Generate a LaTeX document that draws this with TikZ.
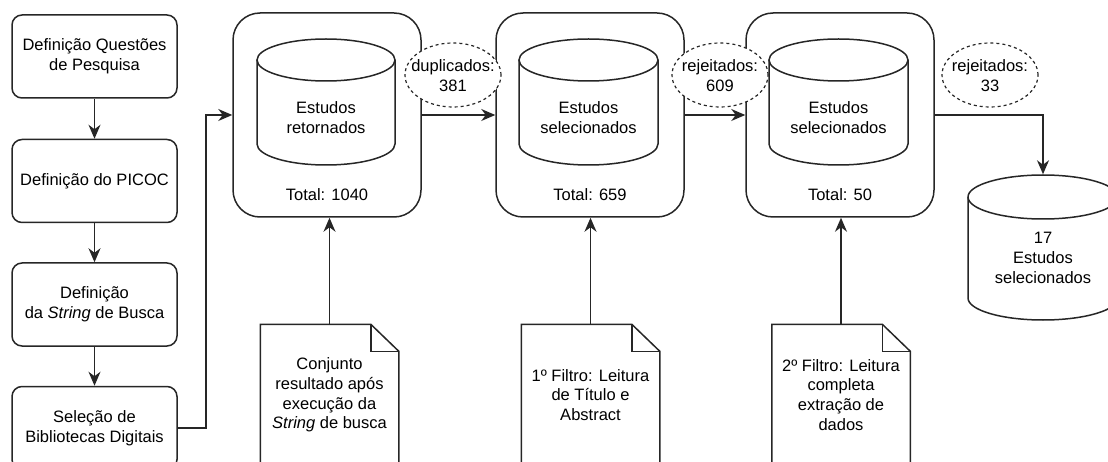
\documentclass[tikz,border=0pt]{standalone}
\usepackage{fontspec}
\setmainfont{Liberation Sans}
\usetikzlibrary{arrows.meta}

% storage drum: centre x, half width, top-cap y, bottom-cap y, cap radius
\newcommand\storedrum[5]{%
  \filldraw[fill=white] (#1-#2,#3) -- (#1-#2,#4)
    arc[start angle=180, end angle=360, x radius=#2pt, y radius=#5pt] -- (#1+#2,#3);
  \filldraw[fill=white] (#1,#3) ellipse [x radius=#2pt, y radius=#5pt];}

% folded-corner sheet drawn around a named node
\newcommand\sheet[1]{%
  \draw (#1.south west) -- (#1.north west) -- ([xshift=-28pt]#1.north east)
    -- ([yshift=-27pt]#1.north east) -- (#1.south east);
  \draw ([xshift=-28pt]#1.north east) -- ([xshift=-28pt,yshift=-27pt]#1.north east)
    -- ([yshift=-27pt]#1.north east);}

\begin{document}
\begin{tikzpicture}[x=1pt, y=-1pt, line width=1.5pt, color={black!85},
  every node/.style={font=\fontsize{16.5}{19.8}\selectfont, align=center, inner sep=0pt, text=black},
  stepbox/.style={draw, rounded corners=10pt, minimum width=165pt, minimum height=83pt},
  stagebox/.style={draw, rounded corners=27pt, minimum width=188pt, minimum height=204pt},
  docbox/.style={minimum width=137pt, minimum height=140pt},
  flow/.style={line width=1.6pt, -{Stealth[length=14pt, width=12pt, inset=4.5pt]}},
  tagline/.style={draw, dash pattern=on 3pt off 3pt, line width=1.2pt, fill=white},
]
\clip (0,0) rectangle (1108,462);

% planning steps
\node[stepbox] (q1) at (94.5,56.5) {Definição Questões\\de Pesquisa};
\node[stepbox] (q2) at (94.5,181) {Definição do PICOC};
\node[stepbox] (q3) at (94.5,304.5) {Definição\\da \textit{String} de Busca};
\node[stepbox] (q4) at (94.5,428) {Seleção de\\Bibliotecas Digitais};

% selection stages
\node[stagebox] (B1) at (327,115) {};
\node[stagebox] (B2) at (590,115) {};
\node[stagebox] (B3) at (840,115) {};

% removed counts
\draw[tagline] (453,75) ellipse [x radius=48pt, y radius=32pt];
\draw[tagline] (720,75) ellipse [x radius=48pt, y radius=32pt];
\draw[tagline] (990,75) ellipse [x radius=48pt, y radius=32pt];
\node (e1) at (453,76) {duplicados:\\381};
\node (e2) at (720,76) {rejeitados:\\609};
\node (e3) at (990,76) {rejeitados:\\33};

% study sets
\storedrum{326}{69}{60}{144}{21}
\storedrum{588.5}{69.5}{60}{144}{21}
\storedrum{838.5}{69.5}{60}{144}{21}
\node (s1) at (326,118) {Estudos\\retornados};
\node (s2) at (588.5,118) {Estudos\\selecionados};
\node (s3) at (838.5,118) {Estudos\\selecionados};
\node (t1) at (327,195) {Total: 1040};
\node (t2) at (590,195) {Total: 659};
\node (t3) at (840,195) {Total: 50};

% final set
\storedrum{1043}{75}{197}{298}{22}
\node[minimum width=150pt, minimum height=145pt] (fin) at (1043,247.5) {};
\node (fintext) at (1043,258) {17\\Estudos\\selecionados};

% inputs to each stage
\node[docbox] (d1) at (329.5,395) {Conjunto\\resultado após\\execução da\\\textit{String} de busca};
\node[docbox] (d2) at (590.5,395) {1º Filtro: Leitura\\de Título e\\Abstract};
\node[docbox] (d3) at (841,395) {2º Filtro: Leitura\\completa\\extração de\\dados};
\sheet{d1}
\sheet{d2}
\sheet{d3}

% connectors
\draw[flow] (q1) -- (q2);
\draw[flow] (q2) -- (q3);
\draw[flow] (q3) -- (q4);
\draw[flow] (q4.east) -- ++(28,0) |- (B1.west);
\draw[flow] (B1.east) -- (B2.west);
\draw[flow] (B2.east) -- (B3.west);
\draw[flow] (B3.east) -| (fin.north);
\draw[flow] (d1.north) -- (d1.north |- B1.south);
\draw[flow] (d2.north) -- (d2.north |- B2.south);
\draw[flow] (d3.north) -- (d3.north |- B3.south);
\end{tikzpicture}
\end{document}
